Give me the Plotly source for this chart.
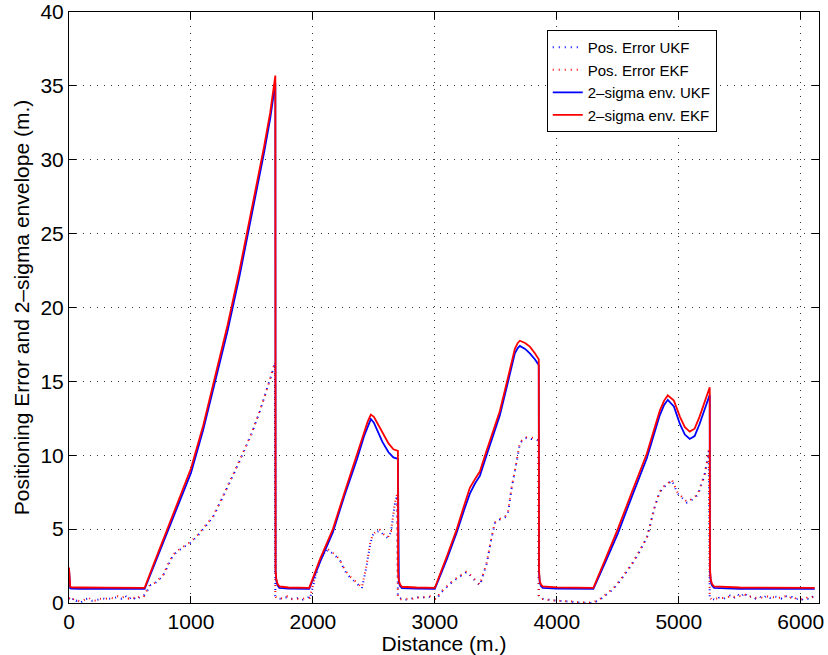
import plotly.graph_objects as go

# ---- 2-sigma envelopes ----
env_d = [0, 4, 10, 20, 40, 100, 300, 500, 620,
         700, 800, 900, 1000, 1100, 1200, 1300, 1400, 1500, 1600, 1650, 1690, 1692,
         1694, 1700, 1710, 1725, 1800, 1900, 1970,
         2060, 2164, 2260, 2360, 2420, 2450, 2475, 2500, 2520, 2570, 2620, 2660, 2697,
         2699, 2705, 2715, 2730, 2850, 3000,
         3100, 3180, 3240, 3287, 3330, 3369, 3420, 3467, 3533, 3598, 3656, 3680, 3697, 3740, 3779, 3820, 3852,
         3854, 3860, 3870, 3885, 4000, 4150, 4300,
         4400, 4500, 4620, 4738, 4844, 4880, 4910, 4960, 5010, 5050, 5090, 5130, 5170, 5210, 5254,
         5256, 5262, 5272, 5290, 5500, 5800, 6115]
env_ekf = [2.4, 1.3, 1.1, 1.06, 1.05, 1.05, 1.04, 1.03, 1.02,
           2.75, 4.9, 7.05, 9.1, 12.0, 15.4, 18.8, 22.6, 26.7, 30.9, 33.2, 35.4, 35.7,
           2.2, 1.6, 1.3, 1.12, 1.05, 1.04, 1.03,
           3.0, 5.0, 7.5, 10.0, 11.6, 12.3, 12.75, 12.6, 12.3, 11.5, 10.8, 10.4, 10.3,
           2.0, 1.5, 1.25, 1.1, 1.05, 1.03,
           3.2, 5.0, 6.6, 7.8, 8.4, 8.9, 10.2, 11.4, 13.0, 15.2, 17.2, 17.6, 17.75, 17.6, 17.35, 16.9, 16.5,
           2.2, 1.5, 1.25, 1.12, 1.06, 1.04, 1.03,
           3.0, 5.0, 7.6, 10.1, 13.0, 13.7, 14.05, 13.7, 12.6, 11.9, 11.6, 11.8, 12.6, 13.5, 14.6,
           2.3, 1.6, 1.3, 1.12, 1.05, 1.04, 1.03]
env_ukf = [2.3, 1.2, 1.0, 0.97, 0.96, 0.96, 0.95, 0.95, 0.95,
           2.6, 4.7, 6.8, 8.8, 11.7, 15.0, 18.4, 22.2, 26.3, 30.5, 32.8, 35.1, 35.2,
           2.1, 1.5, 1.2, 1.02, 0.97, 0.96, 0.95,
           2.8, 4.8, 7.3, 9.7, 11.3, 12.0, 12.45, 12.2, 11.8, 10.9, 10.2, 9.85, 9.75,
           1.9, 1.4, 1.15, 1.0, 0.97, 0.96,
           3.0, 4.8, 6.3, 7.4, 8.1, 8.6, 9.9, 11.1, 12.7, 14.9, 16.9, 17.25, 17.4, 17.2, 16.9, 16.5, 16.1,
           2.1, 1.4, 1.15, 1.02, 0.97, 0.96, 0.95,
           2.8, 4.7, 7.3, 9.8, 12.7, 13.4, 13.75, 13.3, 12.1, 11.4, 11.1, 11.3, 12.1, 13.0, 14.1,
           2.2, 1.5, 1.2, 1.02, 0.96, 0.95, 0.95]

# ---- positioning errors ----
err_d = [0, 20, 40, 60, 80, 100, 130, 160, 190, 220, 250, 280, 310, 340, 370, 400, 430, 460, 490, 520, 550, 580, 610,
         640, 664, 700, 740, 770, 810, 852, 890, 926, 960, 1000, 1060, 1120, 1180, 1240, 1300, 1360, 1426, 1500, 1566, 1630, 1689,
         1692, 1700, 1730, 1760, 1790, 1820, 1850, 1880, 1910, 1940, 1965,
         1975, 2020, 2057, 2090, 2123, 2170, 2221, 2260, 2303, 2350, 2402, 2440, 2470, 2492, 2520, 2549, 2580, 2615, 2640, 2672, 2690,
         2697, 2720, 2750, 2780, 2810, 2840, 2870, 2900, 2930, 2960, 2990,
         3008, 3050, 3098, 3140, 3189, 3230, 3262, 3285, 3303, 3330, 3369, 3400, 3426, 3460, 3492, 3520, 3549, 3575, 3598, 3630, 3672, 3697, 3730, 3762, 3790, 3820, 3848,
         3852, 3870, 3900, 3950, 4000, 4050, 4100, 4150, 4200, 4250, 4295,
         4350, 4400, 4459, 4520, 4580, 4623, 4680, 4738, 4770, 4803, 4840, 4869, 4905, 4943, 4970, 4992, 5030, 5066, 5110, 5156, 5189, 5210, 5230, 5246,
         5254, 5270, 5300, 5330, 5360, 5390, 5420, 5450, 5480, 5510, 5540, 5570, 5600, 5630, 5660, 5690, 5720, 5750, 5780, 5810, 5840, 5870, 5900, 5930, 5960, 5990, 6020, 6050, 6080, 6115]
err_ukf = [0.3, 0.1, 0.35, 0.15, 0.2, 0.05, 0.25, 0.3, 0.15, 0.2, 0.25, 0.3, 0.25, 0.3, 0.35, 0.4, 0.3, 0.5, 0.25, 0.45, 0.2, 0.4, 0.45,
           0.8, 1.2, 1.3, 1.6, 1.8, 2.5, 3.2, 3.5, 3.7, 3.9, 4.1, 4.6, 5.2, 5.8, 6.8, 7.8, 8.9, 10.1, 11.5, 13.0, 14.6, 16.2,
           0.5, 0.4, 0.3, 0.35, 0.4, 0.3, 0.25, 0.35, 0.2, 0.3, 0.4,
           0.3, 1.8, 2.9, 3.3, 3.6, 3.3, 2.9, 2.2, 1.75, 1.4, 1.0, 2.5, 4.0, 4.6, 4.8, 4.9, 4.6, 4.4, 4.8, 6.7, 7.3,
           0.4, 0.3, 0.2, 0.25, 0.3, 0.35, 0.4, 0.35, 0.45, 0.4, 0.3,
           0.2, 0.7, 1.1, 1.4, 1.7, 1.9, 2.1, 1.9, 1.75, 1.5, 1.2, 2.0, 2.7, 4.2, 5.4, 5.6, 5.7, 5.8, 6.0, 7.8, 9.6, 10.8, 11.1, 11.2, 11.1, 11.1, 11.0,
           0.5, 0.3, 0.25, 0.2, 0.15, 0.15, 0.1, 0.05, 0.02, 0.0, 0.0,
           0.2, 0.5, 0.9, 1.5, 2.2, 2.7, 3.5, 4.4, 5.4, 6.5, 7.4, 7.8, 8.0, 8.3, 7.8, 7.4, 7.1, 6.8, 7.0, 7.3, 8.1, 8.6, 9.4, 10.3,
           0.4, 0.3, 0.2, 0.35, 0.25, 0.4, 0.5, 0.3, 0.6, 0.4, 0.7, 0.35, 0.5, 0.3, 0.45, 0.3, 0.5, 0.35, 0.45, 0.4, 0.3, 0.5, 0.35, 0.4, 0.25, 0.35, 0.2, 0.3, 0.25, 0.6]
err_ekf = [0.35, 0.15, 0.3, 0.2, 0.15, 0.1, 0.2, 0.35, 0.2, 0.15, 0.3, 0.25, 0.3, 0.35, 0.3, 0.45, 0.35, 0.45, 0.3, 0.4, 0.25, 0.45, 0.4,
           0.85, 1.25, 1.35, 1.65, 1.85, 2.6, 3.25, 3.55, 3.75, 3.95, 4.15, 4.65, 5.25, 5.85, 6.85, 7.85, 8.95, 10.15, 11.55, 13.05, 14.65, 16.3,
           0.45, 0.35, 0.35, 0.3, 0.45, 0.25, 0.3, 0.3, 0.25, 0.35, 0.35,
           0.35, 1.85, 2.95, 3.35, 3.65, 3.35, 2.95, 2.25, 1.8, 1.45, 1.05, 2.55, 4.05, 4.65, 4.85, 4.95, 4.65, 4.45, 4.85, 6.75, 7.35,
           0.35, 0.25, 0.25, 0.3, 0.25, 0.4, 0.35, 0.4, 0.4, 0.45, 0.35,
           0.25, 0.75, 1.15, 1.45, 1.75, 1.95, 2.15, 1.95, 1.8, 1.55, 1.25, 2.05, 2.75, 4.25, 5.45, 5.65, 5.75, 5.85, 6.05, 7.85, 9.65, 10.85, 11.15, 11.25, 11.2, 11.15, 11.05,
           0.45, 0.25, 0.3, 0.15, 0.2, 0.1, 0.15, 0.05, 0.05, 0.02, 0.02,
           0.25, 0.55, 0.95, 1.55, 2.25, 2.75, 3.55, 4.45, 5.45, 6.55, 7.45, 7.85, 8.05, 8.35, 7.85, 7.45, 7.15, 6.85, 7.05, 7.35, 8.15, 8.65, 9.45, 10.35,
           0.35, 0.25, 0.3, 0.3, 0.35, 0.35, 0.45, 0.4, 0.5, 0.45, 0.6, 0.4, 0.45, 0.35, 0.4, 0.35, 0.45, 0.4, 0.4, 0.35, 0.35, 0.45, 0.3, 0.45, 0.3, 0.3, 0.25, 0.35, 0.3, 0.5]

x_ticks = [0, 1000, 2000, 3000, 4000, 5000, 6000]
y_ticks = [0, 5, 10, 15, 20, 25, 30, 35, 40]

FONT = "Liberation Sans, Arial, Helvetica, sans-serif"
DOT = "1px,5px"

fig = go.Figure()
fig.add_trace(go.Scatter(x=err_d, y=err_ukf, mode="lines", name="Pos. Error UKF",
                         line=dict(color="#0000ff", width=2, dash=DOT)))
fig.add_trace(go.Scatter(x=err_d, y=err_ekf, mode="lines", name="Pos. Error EKF",
                         line=dict(color="#ff0000", width=2, dash=DOT)))
fig.add_trace(go.Scatter(x=env_d, y=env_ukf, mode="lines", name="2–sigma env. UKF",
                         line=dict(color="#0000ff", width=1.8)))
fig.add_trace(go.Scatter(x=env_d, y=env_ekf, mode="lines", name="2–sigma env. EKF",
                         line=dict(color="#ff0000", width=1.8)))

axis_common = dict(showline=True, linecolor="black", linewidth=1, mirror="allticks",
                   ticks="inside", ticklen=7, tickcolor="black", tickwidth=1,
                   showgrid=True, gridcolor="#333333", griddash="1px,6px", gridwidth=1.2,
                   zeroline=False, automargin=False, ticklabeloverflow="allow",
                   tickfont=dict(size=21, color="black", family=FONT))

fig.update_xaxes(range=[0, 6150], tickvals=x_ticks, ticktext=[str(v) for v in x_ticks],
                 title=dict(text="Distance (m.)", font=dict(size=21, color="black", family=FONT), standoff=5),
                 **axis_common)
fig.update_yaxes(range=[0, 40], tickvals=y_ticks, ticktext=[str(v) for v in y_ticks],
                 title=dict(text="Positioning Error and 2–sigma envelope (m.)",
                            font=dict(size=21, color="black", family=FONT), standoff=5),
                 **axis_common)

fig.update_layout(
    width=828, height=655,
    margin=dict(l=69, r=9, t=12, b=52),
    paper_bgcolor="white", plot_bgcolor="white",
    font=dict(family=FONT, color="black"),
    legend=dict(x=0.637, y=0.9695, xanchor="left", yanchor="top",
                bgcolor="white", bordercolor="black", borderwidth=1,
                font=dict(size=15, color="black", family=FONT),
                tracegroupgap=0, itemwidth=30),
    showlegend=True,
)

# remove the page's default 8px body margin so the figure fills the window exactly
fig.write_html("out.html", config={"displayModeBar": False},
               post_script="document.body.style.margin='0';document.body.style.overflow='hidden';")
